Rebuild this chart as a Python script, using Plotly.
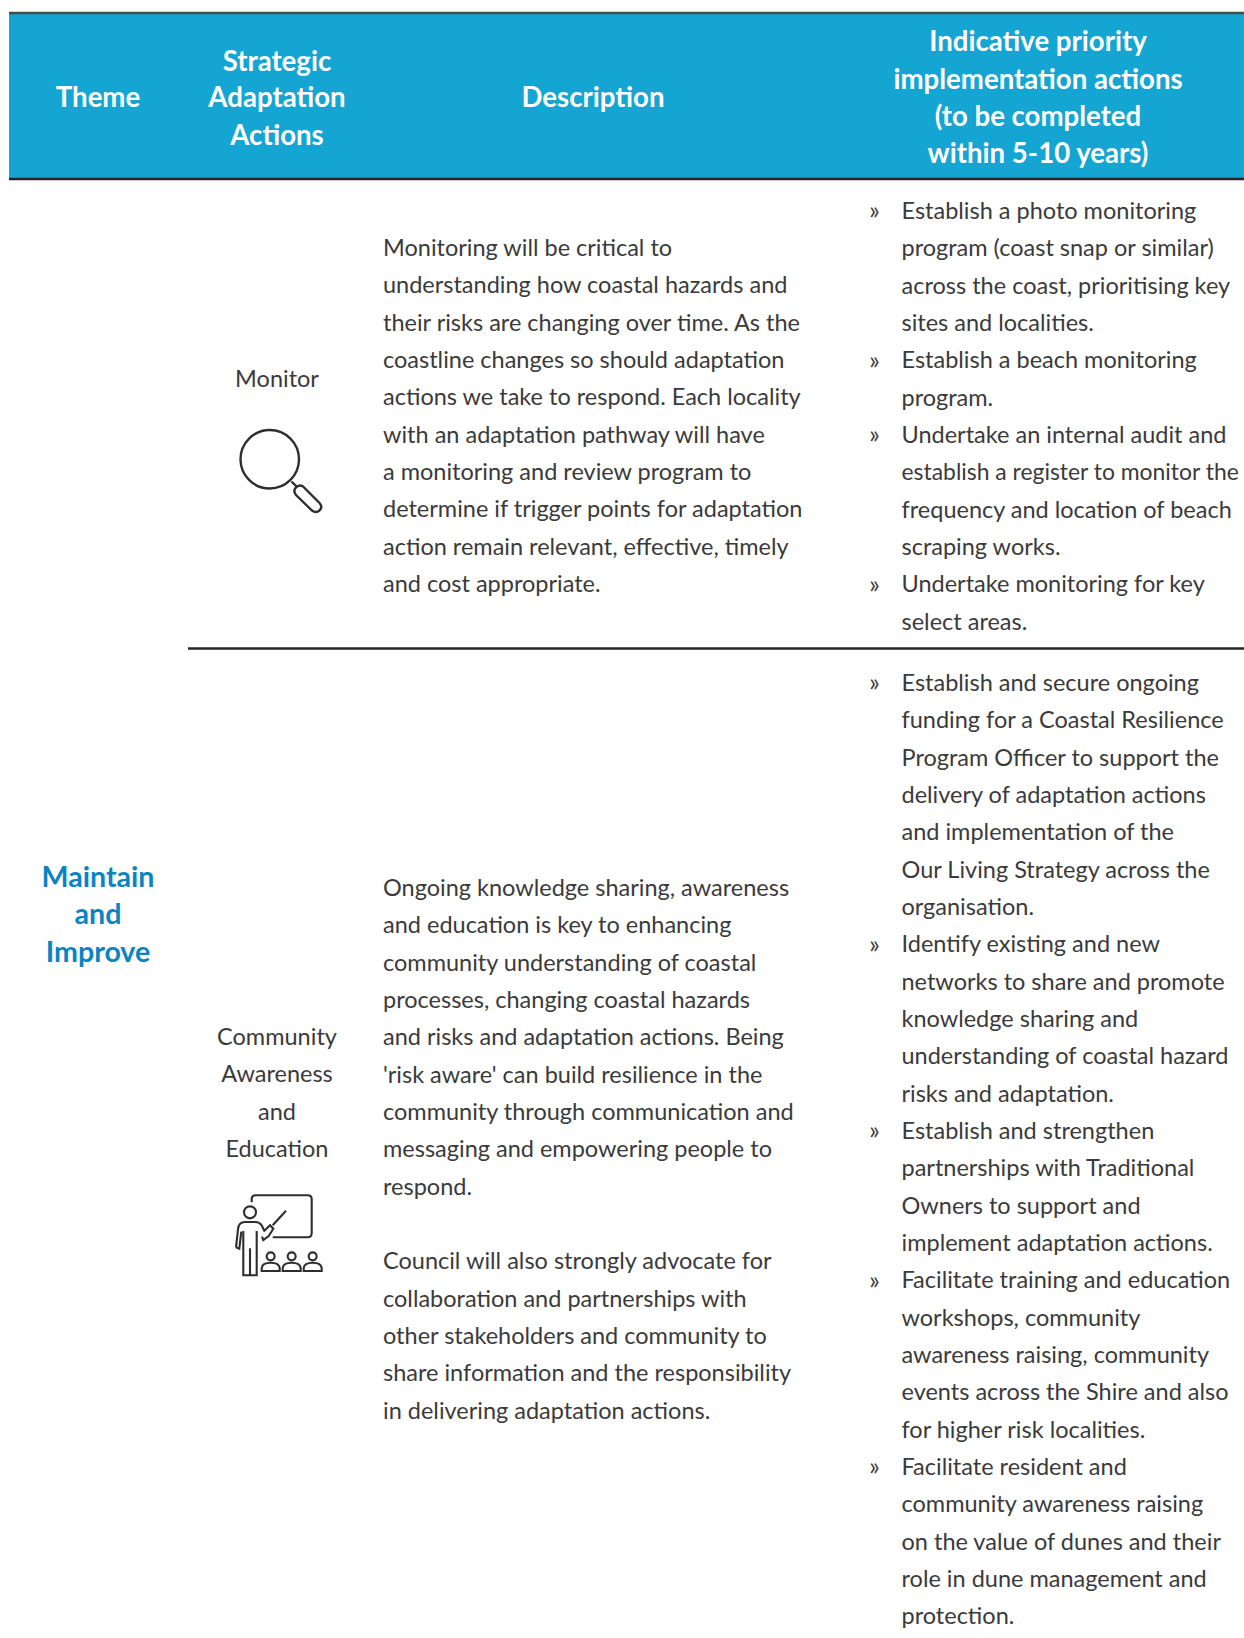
import plotly.graph_objects as go

W, H = 1244, 1638
FONT = "Lato"
BODY_SIZE = 23.5
HEAD_SIZE = 27.6
THEME_SIZE = 28.6
PITCH = 37.33
Y_SHIFT = 2.2
# lines set slightly smaller so they end where the reference does, inside the page
TIGHT_LINES = {"establish a register to monitor the": 22.9}

HEADER_FILL = "#14A5D2"
THEME_BLUE = "#0B84C1"
INK = "#3A3A3A"
RULE = "#262626"

header_labels = [
    (98, 98, "Theme"),
    (277, 61.5, "Strategic"), (277, 98, "Adaptation"), (277, 135.5, "Actions"),
    (593, 98, "Description"),
    (1038, 42, "Indicative priority"), (1038, 79.5, "implementation actions"),
    (1038, 116.5, "(to be completed"), (1038, 153.5, "within 5-10 years)"),
]
theme_lines = ["Maintain", "and", "Improve"]
monitor_label = ["Monitor"]
community_label = ["Community", "Awareness", "and", "Education"]

desc_monitor = [
    "Monitoring will be critical to",
    "understanding how coastal hazards and",
    "their risks are changing over time. As the",
    "coastline changes so should adaptation",
    "actions we take to respond. Each locality",
    "with an adaptation pathway will have",
    "a monitoring and review program to",
    "determine if trigger points for adaptation",
    "action remain relevant, effective, timely",
    "and cost appropriate.",
]
desc_community = [
    "Ongoing knowledge sharing, awareness",
    "and education is key to enhancing",
    "community understanding of coastal",
    "processes, changing coastal hazards",
    "and risks and adaptation actions. Being",
    "'risk aware' can build resilience in the",
    "community through communication and",
    "messaging and empowering people to",
    "respond.",
    "",
    "Council will also strongly advocate for",
    "collaboration and partnerships with",
    "other stakeholders and community to",
    "share information and the responsibility",
    "in delivering adaptation actions.",
]
# "* " marks the first line of a bullet
actions_monitor = [
    "* Establish a photo monitoring",
    "program (coast snap or similar)",
    "across the coast, prioritising key",
    "sites and localities.",
    "* Establish a beach monitoring",
    "program.",
    "* Undertake an internal audit and",
    "establish a register to monitor the",
    "frequency and location of beach",
    "scraping works.",
    "* Undertake monitoring for key",
    "select areas.",
]
actions_community = [
    "* Establish and secure ongoing",
    "funding for a Coastal Resilience",
    "Program Officer to support the",
    "delivery of adaptation actions",
    "and implementation of the",
    "Our Living Strategy across the",
    "organisation.",
    "* Identify existing and new",
    "networks to share and promote",
    "knowledge sharing and",
    "understanding of coastal hazard",
    "risks and adaptation.",
    "* Establish and strengthen",
    "partnerships with Traditional",
    "Owners to support and",
    "implement adaptation actions.",
    "* Facilitate training and education",
    "workshops, community",
    "awareness raising, community",
    "events across the Shire and also",
    "for higher risk localities.",
    "* Facilitate resident and",
    "community awareness raising",
    "on the value of dunes and their",
    "role in dune management and",
    "protection.",
]

fig = go.Figure()


def text_block(xs, ys, texts, size, color, pos, weight="normal"):
    fig.add_trace(go.Scatter(
        x=xs, y=[y + Y_SHIFT for y in ys], text=texts, mode="text", textposition=pos, hoverinfo="skip",
        textfont=dict(family=FONT, size=size, color=color, weight=weight),
    ))


def column(lines, x, y0, pitch=PITCH, size=BODY_SIZE, color=INK, pos="middle right", weight="normal"):
    ys = [y0 + i * pitch for i in range(len(lines))]
    sizes = [TIGHT_LINES.get(line, size) for line in lines]
    text_block([x] * len(lines), ys, lines, sizes, color, pos, weight)


def bullets(lines, x_mark, x_text, y0):
    plain = [l[2:] if l.startswith("* ") else l for l in lines]
    column(plain, x_text, y0)
    marks = [(y0 + i * PITCH) for i, l in enumerate(lines) if l.startswith("* ")]
    text_block([x_mark] * len(marks), marks, ["»"] * len(marks), BODY_SIZE + 1, INK, "middle center")


text_block([h[0] for h in header_labels], [h[1] for h in header_labels], [h[2] for h in header_labels],
           HEAD_SIZE, "white", "middle center", "bold")
column(theme_lines, 98, 877.5, size=THEME_SIZE, color=THEME_BLUE, pos="middle center", weight="bold")
column(monitor_label, 277, 379, pos="middle center")
column(community_label, 277, 1037, pos="middle center")
column(desc_monitor, 383, 248)
column(desc_community, 383, 888)
bullets(actions_monitor, 874.5, 901.5, 211)
bullets(actions_community, 874.5, 901.5, 683)

# table furniture
shapes = [
    dict(type="rect", x0=9, x1=W, y0=13, y1=179, fillcolor=HEADER_FILL, line_width=0, layer="below"),
    dict(type="line", x0=9, x1=W, y0=13, y1=13, line=dict(color="#4A4A4A", width=2.5)),
    dict(type="line", x0=9, x1=W, y0=179, y1=179, line=dict(color=RULE, width=2.5)),
    dict(type="line", x0=188, x1=W, y0=648.5, y1=648.5, line=dict(color=RULE, width=2.5)),
]

# magnifier icon
glass = dict(color="#2E2E2E", width=2.4)
shapes += [
    dict(type="circle", x0=240.5, x1=299, y0=430, y1=488.5, line=glass),
    dict(type="line", x0=291.5, x1=296.5, y0=481.5, y1=486.5, line=glass),
    dict(type="path", line=glass,
         path="M 295.5 488 Q 299 484 303 486.5 L 319.5 503 Q 323 507 319.5 510.5 "
              "Q 316 513.5 312 510.5 L 296 495 Q 293 491 295.5 488 Z"),
]


# teacher icon: traced in a 3x crop whose origin is (200, 1170)
def tx(v):
    return 200 + v / 3


def ty(v):
    return 1170 + v / 3


def p(cmds):
    out = []
    for c in cmds:
        if isinstance(c, str):
            out.append(c)
        else:
            out.append(f"{tx(c[0]):.1f} {ty(c[1]):.1f}")
    return " ".join(out)


icon = dict(color="#2E2E2E", width=2.1)
teacher_paths = [
    ["M", (155, 97), "L", (155, 88), "Q", (155, 76), (167, 76), "L", (323, 76), "Q", (335, 76), (335, 88),
     "L", (335, 190), "Q", (335, 202), (323, 202), "L", (218, 202)],
    ["M", (218, 166), "L", (258, 122)],
    ["M", (130, 183), "L", (130, 316), "L", (170, 316), "L", (170, 183)],
    ["M", (150, 235), "L", (150, 316)],
    ["M", (108, 232), "L", (114, 178), "Q", (116, 156), (135, 156), "L", (165, 156), "Q", (180, 156), (186, 168),
     "L", (193, 182), "L", (210, 166), "L", (220, 176), "L", (206, 198), "L", (190, 210), "L", (186, 200)],
    ["M", (108, 232), "L", (118, 236), "L", (124, 185)],
]
for path in teacher_paths:
    shapes.append(dict(type="path", path=p(path), line=icon))
shapes.append(dict(type="circle", x0=tx(132), x1=tx(168), y0=ty(109), y1=ty(145), line=icon))
for cx in (212, 275, 338):
    shapes.append(dict(type="circle", x0=tx(cx - 12), x1=tx(cx + 12), y0=ty(247), y1=ty(271), line=icon))
    shapes.append(dict(type="path", line=icon, path=p(
        ["M", (cx - 27, 303), "L", (cx - 27, 294), "Q", (cx - 25, 278), (cx, 278), "Q", (cx + 25, 278), (cx + 27, 294),
         "L", (cx + 27, 303), "Z"])))

fig.update_layout(
    width=W, height=H, margin=dict(l=0, r=0, t=0, b=0),
    paper_bgcolor="white", plot_bgcolor="white", showlegend=False, shapes=shapes,
    xaxis=dict(range=[0, W], visible=False, fixedrange=True),
    yaxis=dict(range=[H, 0], visible=False, fixedrange=True),
)
fig.write_html("out.html", config=dict(displayModeBar=False),
               post_script="document.body.style.margin='0';")
